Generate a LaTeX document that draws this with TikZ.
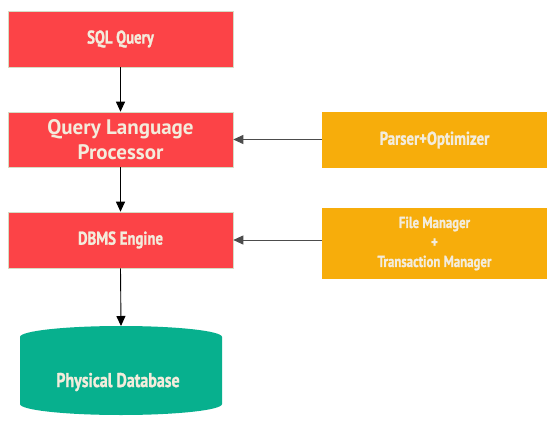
\documentclass[tikz,border=0pt]{standalone}
\usepackage{fontspec}
\usetikzlibrary{arrows.meta}
\newfontfamily\condfont[FakeStretch=0.8,FakeBold=1.2]{PT Sans Bold}
\newfontfamily\widefont{PT Sans Bold}
\definecolor{boxred}{RGB}{252,67,71}
\definecolor{boxorange}{RGB}{247,173,11}
\definecolor{dbteal}{RGB}{7,176,142}
\definecolor{txtcream}{RGB}{243,236,220}
\definecolor{redrim}{RGB}{214,220,196}
\begin{document}
\begin{tikzpicture}[x=1pt,y=-1pt,
  redbox/.style={fill=boxred,draw=redrim,line width=0.6pt,minimum width=225pt,minimum height=56pt,inner sep=0pt,text=txtcream,align=center},
  orbox/.style={fill=boxorange,draw=none,minimum width=225pt,inner sep=0pt,text=txtcream,align=center},
  condtext/.style={font=\condfont\fontsize{18.5}{20}\selectfont},
  dbtext/.style={font=\condfont\fontsize{20}{22}\selectfont},
  smalltext/.style={font=\condfont\fontsize{16}{19.5}\selectfont},
  widetext/.style={font=\widefont\fontsize{21}{25}\selectfont},
  flow/.style={draw=black,line width=0.9pt,-{Triangle[length=10pt,width=9pt]}},
  feed/.style={draw=black!70,line width=0.9pt,-{Triangle[length=10pt,width=9pt]}}]
\fill[white] (0,0) rectangle (557,423);
\useasboundingbox (0,0) rectangle (557,423);
\node[redbox,condtext] (sql) at (120.5,39) {SQL Query};
\node[redbox,widetext,minimum height=55pt] (qlp) at (120.5,139.5) {Query Language\\Processor};
\node[redbox,condtext] (dbms) at (120.5,240) {DBMS Engine};
\node[orbox,condtext,minimum height=56pt] (po) at (434.5,140) {Parser+Optimizer};
\node[orbox,smalltext,minimum height=71pt] (fm) at (434.5,243.5) {File Manager\\+\\Transaction Manager};
\fill[dbteal] (20,337) -- (20,404) arc[start angle=180,end angle=0,x radius=101,y radius=11]
  -- (222,337) arc[start angle=0,end angle=-180,x radius=101,y radius=11] -- cycle;
\coordinate (dbtop) at (121,326);
\node[text=txtcream,dbtext] (db) at (118,382) {Physical Database};
\draw[flow] (sql.south) -- (qlp.north);
\draw[flow] (qlp.south) -- (dbms.north);
\draw[flow] (dbms.south) -- (dbtop);
\draw[feed] (qlp.east -| po.west) -- (qlp.east);
\draw[feed] (dbms.east -| fm.west) -- (dbms.east);
\end{tikzpicture}
\end{document}
